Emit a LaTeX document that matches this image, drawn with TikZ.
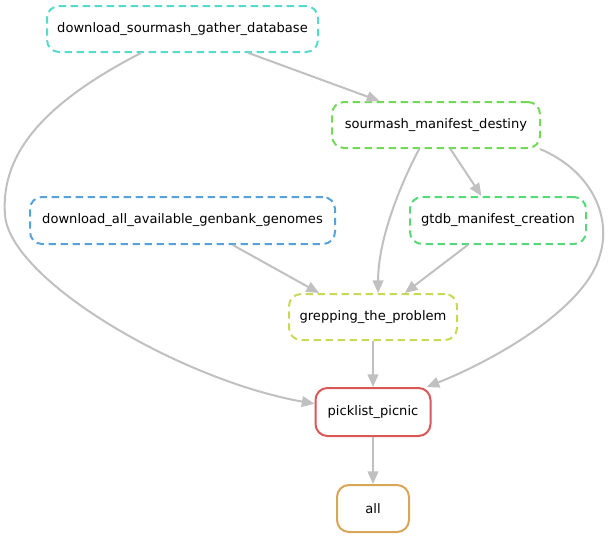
\documentclass[tikz,border=0pt]{standalone}
\usepackage{fontspec}
\setmainfont{DejaVu Sans}
\usetikzlibrary{arrows.meta}
\definecolor{cA}{RGB}{87,217,204}
\definecolor{cB}{RGB}{115,217,87}
\definecolor{cC}{RGB}{87,163,217}
\definecolor{cD}{RGB}{87,217,121}
\definecolor{cE}{RGB}{200,217,87}
\definecolor{cF}{RGB}{217,87,87}
\definecolor{cG}{RGB}{217,165,87}
\definecolor{edgegray}{RGB}{192,192,192}
\tikzset{
  rule/.style={draw=#1, line width=1.5pt, rounded corners=9pt, fill=white,
    font=\fontsize{9.8}{11}\selectfont, inner sep=0pt},
  druleA/.style={rule=#1, dash pattern=on 5.5pt off 3.5pt},
  conn/.style={draw=edgegray, line width=1.5pt, -{Triangle[length=9.5pt,width=8pt]}},
}
\begin{document}
\begin{tikzpicture}[x=0.75pt,y=-0.75pt]
\useasboundingbox (0,0) rectangle (612,539);
\node[druleA=cA, minimum width=203.25pt, minimum height=34.5pt] (n1) at (182.5,29) {download\_sourmash\_gather\_database};
\node[druleA=cB, minimum width=156pt, minimum height=34.5pt] (n2) at (436,125) {sourmash\_manifest\_destiny};
\node[druleA=cC, minimum width=228.75pt, minimum height=35.25pt] (n3) at (182.5,220.5) {download\_all\_available\_genbank\_genomes};
\node[druleA=cD, minimum width=132pt, minimum height=35.25pt] (n4) at (498,220.5) {gtdb\_manifest\_creation};
\node[druleA=cE, minimum width=126pt, minimum height=34.5pt] (n5) at (373,317) {grepping\_the\_problem};
\node[rule=cF, minimum width=86.25pt, minimum height=36pt] (n6) at (373,412) {picklist\_picnic};
\node[rule=cG, minimum width=54pt, minimum height=35.25pt] (n7) at (373,508.5) {all};

\draw[conn] (n1.-20) -- (n2.157);
\draw[conn] (n1.-150) .. controls (50,100) and (0,150) .. (5,215) .. controls (10,280) and (180,380) .. (n6.172);
\draw[conn] (n2.-59) -- (n4.124);
\draw[conn] (n2.-125) .. controls (400,185) and (378,240) .. (n5.78);
\draw[conn] (n2.-13) .. controls (590,170) and (612,215) .. (600,255) .. controls (585,310) and (490,362) .. (n6.25);
\draw[conn] (n3.-26) -- (n5.156);
\draw[conn] (n4.-141) -- (n5.37);
\draw[conn] (n5) -- (n6);
\draw[conn] (n6) -- (n7);
\end{tikzpicture}
\end{document}
